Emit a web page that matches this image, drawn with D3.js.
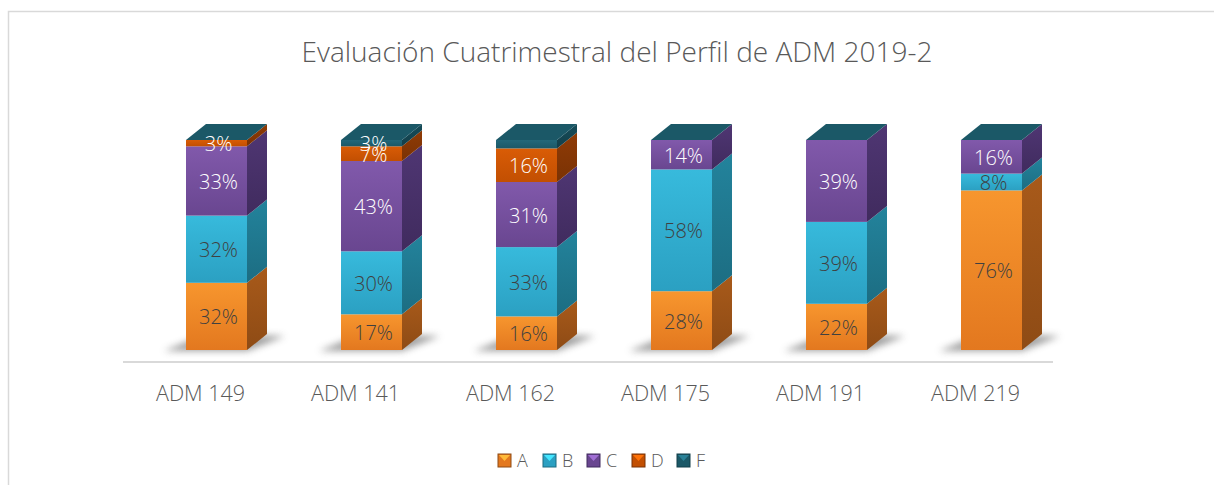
<!DOCTYPE html>
<html>
<head>
<meta charset="utf-8">
<script src="https://cdn.jsdelivr.net/npm/d3@7"></script>
<style>
  body { margin: 0; background: #fff; }
  text { font-family: "Open Sans", "Liberation Sans", sans-serif; }
</style>
</head>
<body>
<script>
// data (percent of each group)
var categories = ["ADM 149", "ADM 141", "ADM 162", "ADM 175", "ADM 191", "ADM 219"];
var seriesKeys = ["A", "B", "C", "D", "F"];
var valA = [32, 17, 16, 28, 22, 76];
var valB = [32, 30, 33, 58, 39, 8];
var valC = [33, 43, 31, 14, 39, 16];
var valD = [3, 7, 16, 0, 0, 0];
var valF = [0, 3, 4, 0, 0, 0];
var hiddenLabels = ["ADM 162|F"];   // this one has no label in the picture
var title = "Evaluación Cuatrimestral del Perfil de ADM 2019-2";

var width = 1214, height = 485;

var colors = {
    A: { top: "#f7962e", bottom: "#e3781f", side: "#a85a1a", sideDark: "#8e4b15", text: "#404040" },
    B: { top: "#37badc", bottom: "#2ba0c2", side: "#23839c", sideDark: "#1c6d82", text: "#404040" },
    C: { top: "#8159ab", bottom: "#694690", side: "#4f3673", sideDark: "#402b5e", text: "#ffffff" },
    D: { top: "#d95c06", bottom: "#c24f02", side: "#8f3b06", sideDark: "#7a3204", text: "#ffffff" },
    F: { top: "#22687a", bottom: "#1b5867", side: "#174c59", sideDark: "#123f4a", text: "#ffffff" }
};

var rows = categories.map(function(c, i) {
    return { cat: c, A: valA[i], B: valB[i], C: valC[i], D: valD[i], F: valF[i] };
});

var stack = d3.stack().keys(seriesKeys);
var layers = stack(rows);

var x = d3.scaleBand().domain(categories).range([123, 1053]);
var y = d3.scaleLinear().domain([0, 100]).range([350, 140]);

var barOffset = 63, barW = 61, depthX = 20, depthY = 16;

var svg = d3.select("body").append("svg")
        .attr("width", width)
        .attr("height", height);

var defs = svg.append("defs");

seriesKeys.forEach(function(k) {
    var g = defs.append("linearGradient")
            .attr("id", "front-" + k)
            .attr("x1", 0).attr("y1", 0).attr("x2", 0).attr("y2", 1);
    g.append("stop").attr("offset", "0%").attr("stop-color", colors[k].top);
    g.append("stop").attr("offset", "100%").attr("stop-color", colors[k].bottom);

    var s = defs.append("linearGradient")
            .attr("id", "side-" + k)
            .attr("x1", 0).attr("y1", 0).attr("x2", 0).attr("y2", 1);
    s.append("stop").attr("offset", "0%").attr("stop-color", colors[k].side);
    s.append("stop").attr("offset", "100%").attr("stop-color", colors[k].sideDark);
});

defs.append("filter")
        .attr("id", "shadowBlur")
        .attr("x", "-50%").attr("y", "-100%").attr("width", "200%").attr("height", "300%")
    .append("feGaussianBlur")
        .attr("stdDeviation", 3.5);

// chart border (only top and left edges are inside the picture)
svg.append("rect")
        .attr("x", 8.5).attr("y", 11.5)
        .attr("width", width + 20).attr("height", height + 20)
        .attr("fill", "none")
        .attr("stroke", "#d9d9d9")
        .attr("stroke-width", 1.5);

svg.append("text")
        .attr("x", 617)
        .attr("y", 62)
        .attr("text-anchor", "middle")
        .attr("font-size", 28)
        .attr("font-weight", 300)
        .attr("fill", "#595959")
        .text(title);

// axis line
svg.append("line")
        .attr("x1", x.range()[0]).attr("x2", x.range()[1])
        .attr("y1", 362).attr("y2", 362)
        .attr("stroke", "#d9d9d9")
        .attr("stroke-width", 2);

// category labels
svg.append("g").selectAll("text")
        .data(categories)
        .enter().append("text")
        .attr("x", function(d) { return x(d) + x.bandwidth() / 2; })
        .attr("y", 401)
        .attr("text-anchor", "middle")
        .attr("font-size", 21.5)
        .attr("font-weight", 300)
        .attr("fill", "#595959")
        .text(function(d) { return d; });

// floor shadows
svg.append("g").selectAll("polygon")
        .data(categories)
        .enter().append("polygon")
        .attr("filter", "url(#shadowBlur)")
        .attr("fill", "#7f7f7f")
        .attr("opacity", 0.75)
        .attr("points", function(d) {
            var xl = x(d) + barOffset, xr = xl + barW, yb = y(0);
            return [[xl - 22, yb + 1], [xr, yb + 1], [xr + depthX + 18, yb - depthY + 2], [xl + depthX, yb - depthY]].join(" ");
        });

var bars = svg.append("g");

layers.forEach(function(layer) {
    var k = layer.key;
    layer.forEach(function(seg, i) {
        var cat = categories[i];
        var xl = x(cat) + barOffset, xr = xl + barW;
        var y0 = y(seg[0]), y1 = y(seg[1]);
        if (seg[1] - seg[0] <= 0) return;
        bars.append("rect")
                .attr("x", xl).attr("y", y1)
                .attr("width", barW).attr("height", y0 - y1)
                .attr("fill", "url(#front-" + k + ")");
        bars.append("polygon")
                .attr("points", [[xr, y1], [xr + depthX, y1 - depthY], [xr + depthX, y0 - depthY], [xr, y0]].join(" "))
                .attr("fill", "url(#side-" + k + ")");
    });
});

// top face belongs to the topmost series (F), drawn even where it is 0
var topKey = seriesKeys[seriesKeys.length - 1];
bars.selectAll("polygon.top")
        .data(categories)
        .enter().append("polygon")
        .attr("class", "top")
        .attr("fill", colors[topKey].bottom)
        .attr("points", function(d) {
            var xl = x(d) + barOffset, xr = xl + barW, yt = y(100);
            return [[xl, yt], [xl + depthX, yt - depthY], [xr + depthX, yt - depthY], [xr, yt]].join(" ");
        });

// data labels
var labels = svg.append("g");
layers.forEach(function(layer) {
    var k = layer.key;
    layer.forEach(function(seg, i) {
        var v = seg[1] - seg[0];
        var cat = categories[i];
        if (v <= 0 || hiddenLabels.indexOf(cat + "|" + k) >= 0) return;
        labels.append("text")
                .attr("x", x(cat) + barOffset + barW / 2 + 2)
                .attr("y", y((seg[0] + seg[1]) / 2) + 1)
                .attr("dy", "0.35em")
                .attr("text-anchor", "middle")
                .attr("font-size", 20)
                .attr("font-weight", 300)
                .attr("fill", colors[k].text)
                .text(v + "%");
    });
});

// legend
var legendX = [498, 543, 587, 632, 677];
var legend = svg.append("g").selectAll("g")
        .data(seriesKeys)
        .enter().append("g")
        .attr("transform", function(d, i) { return "translate(" + legendX[i] + ",454)"; });

legend.append("rect")
        .attr("width", 13).attr("height", 13)
        .attr("fill", function(d) { return colors[d].bottom; })
        .attr("stroke", function(d) { return colors[d].sideDark; })
        .attr("stroke-width", 1);

legend.append("polygon")
        .attr("points", "1,1 12,1 6.5,7")
        .attr("fill", function(d) { return d3.color(colors[d].top).brighter(0.6); });

legend.append("text")
        .attr("x", 19)
        .attr("y", 13)
        .attr("font-size", 18)
        .attr("font-weight", 300)
        .attr("fill", "#595959")
        .text(function(d) { return d; });
</script>
</body>
</html>
